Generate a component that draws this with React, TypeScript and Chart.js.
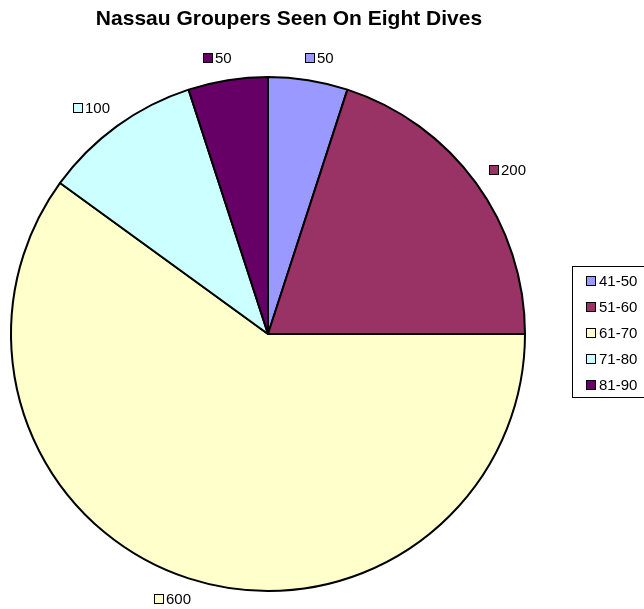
import React, { useEffect, useRef } from "react";
import { Chart, registerables } from "chart.js";

Chart.register(...registerables);

const chartTitle = "Nassau Groupers Seen On Eight Dives";
const categories = ["41-50", "51-60", "61-70", "71-80", "81-90"];
const counts = [50, 200, 600, 100, 50];
const sliceColors = ["#9999FF", "#993366", "#FFFFCC", "#CCFFFF", "#660066"];

const FONT = '"Liberation Sans", Arial, sans-serif';

const overlayPlugin = {
  id: "excelOverlay",
  afterDraw(chart: any) {
    const ctx = chart.ctx;
    const H = chart.height;
    ctx.save();
    // Title
    ctx.fillStyle = "#000";
    ctx.font = `bold 21px ${FONT}`;
    ctx.textAlign = "center";
    ctx.textBaseline = "middle";
    ctx.fillText(chartTitle, 289, 19);

    // Data labels
    const meta = chart.getDatasetMeta(0);
    ctx.font = `15px ${FONT}`;
    ctx.textAlign = "left";
    meta.data.forEach((arc: any, i: number) => {
      const a = (arc.startAngle + arc.endAngle) / 2;
      const txt = String(counts[i]);
      const tw = ctx.measureText(txt).width;
      const w = 10 + 2 + tw;
      const h = 12;
      const r = arc.outerRadius + 16;
      const c = Math.cos(a);
      const s = Math.sin(a);
      let cx = arc.x + r * c + (w / 2) * c + 6 * Math.sign(c) * Math.abs(s);
      let cy = arc.y + r * s + (h / 2) * s;
      cy = Math.min(cy, H - 8);
      cx = Math.max(cx, w / 2 + 2);
      const left = Math.round(cx - w / 2);
      const my = Math.round(cy);
      ctx.fillStyle = sliceColors[i];
      ctx.fillRect(left + 0.5, my - 4.5, 9, 9);
      ctx.strokeStyle = "#000";
      ctx.lineWidth = 1;
      ctx.strokeRect(left + 0.5, my - 4.5, 9, 9);
      ctx.fillStyle = "#000";
      ctx.fillText(txt, left + 12, my + 1);
    });

    // Legend
    const lx = 572, ly = 266, lw = 80, lh = 131;
    ctx.strokeStyle = "#000";
    ctx.lineWidth = 1;
    ctx.strokeRect(lx + 0.5, ly + 0.5, lw, lh);
    categories.forEach((cat, i) => {
      const y = 281 + i * 26;
      ctx.fillStyle = sliceColors[i];
      ctx.fillRect(586.5, y - 4.5, 9, 9);
      ctx.strokeStyle = "#000";
      ctx.strokeRect(586.5, y - 4.5, 9, 9);
      ctx.fillStyle = "#000";
      ctx.fillText(cat, 599, y + 1);
    });
    ctx.restore();
  },
};

export default function App() {
  const ref = useRef<HTMLCanvasElement | null>(null);
  useEffect(() => {
    if (!ref.current) return;
    const chart = new Chart(ref.current, {
      type: "pie",
      data: {
        labels: categories,
        datasets: [
          {
            data: counts,
            backgroundColor: sliceColors,
            borderColor: "#000",
            borderWidth: 2,
            hoverOffset: 0,
            offset: 0,
          },
        ],
      },
      options: {
        responsive: false,
        animation: false,
        devicePixelRatio: 1,
        layout: { padding: { left: 10, top: 76, right: 118, bottom: 17 } },
        plugins: {
          legend: { display: false },
          title: { display: false },
          tooltip: { enabled: false },
        },
      },
      plugins: [overlayPlugin],
    });
    return () => chart.destroy();
  }, []);
  return (
    <div style={{ position: "absolute", left: 0, top: 0, width: 644, height: 609, background: "#fff" }}>
      <canvas ref={ref} width={644} height={609} style={{ width: 644, height: 609 }} />
    </div>
  );
}
